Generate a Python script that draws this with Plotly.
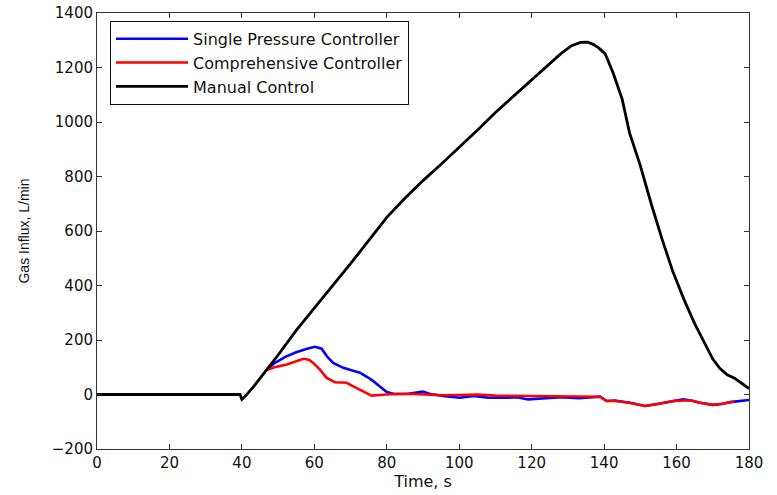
import plotly.graph_objects as go

# Manual control (black)
t_manual = [0, 10, 20, 30, 39.5, 40, 41, 43, 46, 50, 55, 60, 62, 66, 70, 75, 80, 85, 90,
            95, 100, 105, 110, 115, 120, 124, 128, 131, 133.5, 135.5, 137, 138.5, 140.3,
            142.5, 145, 147, 150, 153, 156, 159, 162, 165, 168, 170, 172, 174, 176, 178, 180]
v_manual = [0, 0, 0, 0, 0, -18, -5, 25, 75, 145, 235, 315, 349, 415, 480, 565, 650, 720, 785,
            845, 906, 970, 1035, 1095, 1156, 1205, 1250, 1280, 1292, 1293, 1285, 1272, 1250,
            1180, 1083, 961, 840, 700, 570, 450, 350, 260, 180, 130, 95, 72, 60, 42, 22]

# Single pressure controller (blue)
t_single = [46.8, 49, 52, 55, 58, 60.2, 62, 63.5, 65.2, 68, 70, 72.6, 74.5, 76.3, 78, 80,
            82, 86, 89.9, 92, 96, 100.2, 104, 108, 113, 116, 119, 123, 128, 133, 138.9,
            140.7, 143, 147, 151.3, 155, 159, 161.8, 164, 166.5, 170, 172.5, 174.8, 177, 180]
v_single = [92, 115, 138, 155, 168, 175, 168, 140, 116, 98, 90, 80, 65, 49, 30, 9,
            2, 3, 11, 2, -6, -12, -5, -12, -12, -10, -18, -15, -10, -14, -8,
            -24, -22, -30, -42, -34, -24, -18, -22, -30, -38, -35, -28, -24, -20]

# Comprehensive controller (red)
t_comp = [46.8, 49, 52.4, 55, 57, 58.5, 59.7, 61.5, 63.4, 65.7, 68.9, 70.5, 72.6, 74.2, 75.8,
          78, 82, 86, 90, 95, 100, 105, 110, 115, 120, 125, 130, 134, 138.9, 140.7, 143, 147,
          151.3, 155, 159, 161.8, 164, 166.5, 170, 172.5, 174.8, 176]
v_comp = [90, 100, 110, 122, 131, 128, 116, 92, 61, 45, 43, 32, 18, 6, -4,
          -2, 2, 3, 0, -3, -2, 0, -4, -5, -6, -5, -6, -7, -8, -24, -24, -30,
          -42, -35, -24, -22, -22, -30, -38, -34, -28, -26]

FONT = 'DejaVu Sans, Verdana, sans-serif'
NARROW = 'Liberation Sans, Arial, sans-serif'

fig = go.Figure()

fig.add_trace(go.Scatter(
    x=t_single, y=v_single, mode='lines', name='Single Pressure Controller',
    line=dict(color='#0000FF', width=2.6)
))
fig.add_trace(go.Scatter(
    x=t_comp, y=v_comp, mode='lines', name='Comprehensive Controller',
    line=dict(color='#FF0000', width=2.6)
))
fig.add_trace(go.Scatter(
    x=t_manual, y=v_manual, mode='lines', name='Manual Control',
    line=dict(color='#000000', width=2.8)
))

axis_style = dict(
    showline=True, linecolor='#333333', linewidth=1, mirror='ticks',
    ticks='inside', ticklen=5, tickcolor='#333333',
    showgrid=False, zeroline=False, automargin=False,
    tickfont=dict(family=FONT, size=15, color='#111111'),
)

fig.update_xaxes(
    range=[0, 180], tickvals=list(range(0, 181, 20)),
    title=dict(text='Time, s', standoff=4,
               font=dict(family=FONT, size=16, color='#111111')),
    **axis_style
)
fig.update_yaxes(
    range=[-200, 1400], tickvals=list(range(-200, 1401, 200)),
    title=dict(text='Gas Influx, L/min', standoff=18,
               font=dict(family=NARROW, size=14, color='#111111')),
    **axis_style
)

fig.update_layout(
    width=777, height=495,
    margin=dict(l=97, r=28, t=13, b=46),
    plot_bgcolor='white', paper_bgcolor='white',
    showlegend=True,
    legend=dict(
        x=0.02, y=0.982, xanchor='left', yanchor='top',
        bgcolor='white', bordercolor='#111111', borderwidth=1,
        font=dict(family=FONT, size=16, color='#111111'),
        itemwidth=72, tracegroupgap=0,
    ),
)

# drop the default page margin so the figure sits at the window's corner
fig.write_html("out.html", config={'displayModeBar': False},
               post_script="document.body.style.margin='0';")
